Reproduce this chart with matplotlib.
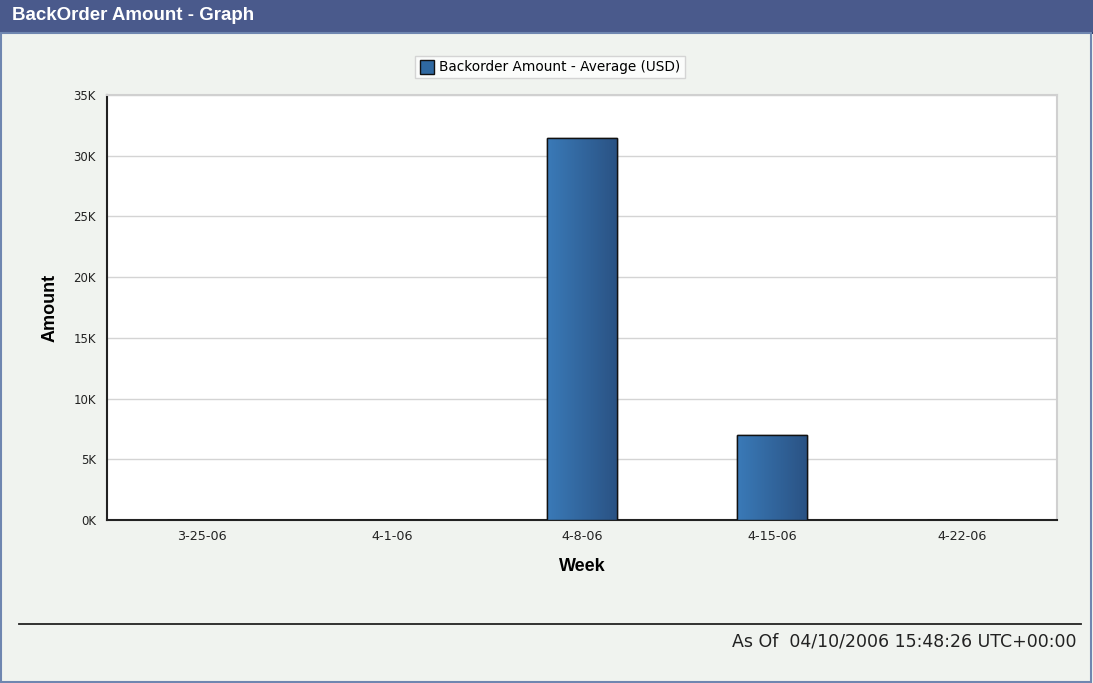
import matplotlib.pyplot as plt
import matplotlib.patches as mpatches
from matplotlib.ticker import FuncFormatter
import numpy as np

# Data
weeks = ["3-25-06", "4-1-06", "4-8-06", "4-15-06", "4-22-06"]
amounts = [0, 0, 31450, 7000, 0]
series_name = "Backorder Amount - Average (USD)"

plt.rcParams['font.family'] = ['Liberation Sans', 'DejaVu Sans']

W, H = 1093, 683
fig = plt.figure(figsize=(W / 100, H / 100), dpi=100)
fig.patch.set_facecolor("#f0f3ef")

# Header band and frame
fig.patches.append(mpatches.Rectangle((0, 1 - 32 / H), 1, 32 / H, transform=fig.transFigure,
                                      facecolor="#4a5a8c", edgecolor="none", zorder=0))
fig.patches.append(mpatches.Rectangle((0, 1 - 34 / H), 1, 2 / H, transform=fig.transFigure,
                                      facecolor="#2f3f70", edgecolor="none", zorder=0))
fig.patches.append(mpatches.Rectangle((1 / W, 1 / H), 1 - 3 / W, 1 - 34 / H, transform=fig.transFigure,
                                      facecolor="none", edgecolor="#6f86b0", linewidth=1.5, zorder=0))
fig.text(12 / W, 1 - 16 / H, "BackOrder Amount - Graph", color="white", fontsize=13.5,
         fontweight="bold", va="center", ha="left")

ax = fig.add_axes([107 / W, 1 - 520 / H, 950 / W, 425 / H])
ax.set_facecolor("white")

x = np.arange(len(weeks))
bar_w = 0.37
bars = ax.bar(x, amounts, width=bar_w, color="#3470a8", edgecolor="#111111", linewidth=1.0,
              zorder=3, label=series_name)

# Horizontal gradient on bars
grad = np.linspace(0, 1, 256).reshape(1, -1)
cmap = plt.matplotlib.colors.LinearSegmentedColormap.from_list("bar", ["#3a7ab8", "#2a5283"])
for b in bars:
    h = b.get_height()
    if h <= 0:
        continue
    bx, bw = b.get_x(), b.get_width()
    im = ax.imshow(grad, extent=[bx, bx + bw, 0, h], aspect="auto", cmap=cmap, zorder=3.5)
    im.set_clip_path(b)
    ax.add_patch(mpatches.Rectangle((bx, 0), bw, h, facecolor="none", edgecolor="#111111",
                                    linewidth=1.0, zorder=4))

ax.set_xlim(-0.5, len(weeks) - 0.5)
ax.set_ylim(0, 35000)
ax.set_yticks(np.arange(0, 35001, 5000))
ax.yaxis.set_major_formatter(FuncFormatter(lambda v, p: f"{int(v / 1000)}K"))
ax.set_xticks(x)
ax.set_xticklabels(weeks)
ax.tick_params(axis="y", length=0, labelsize=8.5, colors="#222222", pad=8)
ax.tick_params(axis="x", length=0, labelsize=9.2, colors="#222222", pad=7)
for lbl in ax.get_xticklabels() + ax.get_yticklabels():
    lbl.set_family("DejaVu Sans")
ax.grid(axis="y", color="#d4d4d4", linewidth=1.0, zorder=0)
ax.set_axisbelow(True)

for s in ["top", "right"]:
    ax.spines[s].set_color("#d0d0d0")
    ax.spines[s].set_linewidth(1.5)
for s in ["left", "bottom"]:
    ax.spines[s].set_color("#222222")
    ax.spines[s].set_linewidth(1.5)

ax.set_xlabel("Week", fontsize=13, fontweight="bold", labelpad=11)
ax.set_ylabel("Amount", fontsize=13, fontweight="bold", labelpad=11)

leg = fig.legend(handles=[mpatches.Patch(facecolor="#2f68a0", edgecolor="#111111", label=series_name)],
                 loc="center", bbox_to_anchor=(550 / W, 1 - 67 / H), frameon=True,
                 prop={"family": "DejaVu Sans", "size": 9.8},
                 fancybox=False, handlelength=1.1, handleheight=1.2, handletextpad=0.35,
                 borderpad=0.3, borderaxespad=0)
leg.get_frame().set_edgecolor("#cccccc")
leg.get_frame().set_facecolor("white")

# Footer
fig.add_artist(plt.Line2D([19 / W, 1081 / W], [1 - 624 / H, 1 - 624 / H], color="#222222", linewidth=1.3))
fig.text(1077 / W, 1 - 642 / H, "As Of  04/10/2006 15:48:26 UTC+00:00", ha="right", va="center",
         fontsize=12.5, family="DejaVu Sans", color="#222222")

fig.savefig("out.png", dpi=100, facecolor=fig.get_facecolor())
